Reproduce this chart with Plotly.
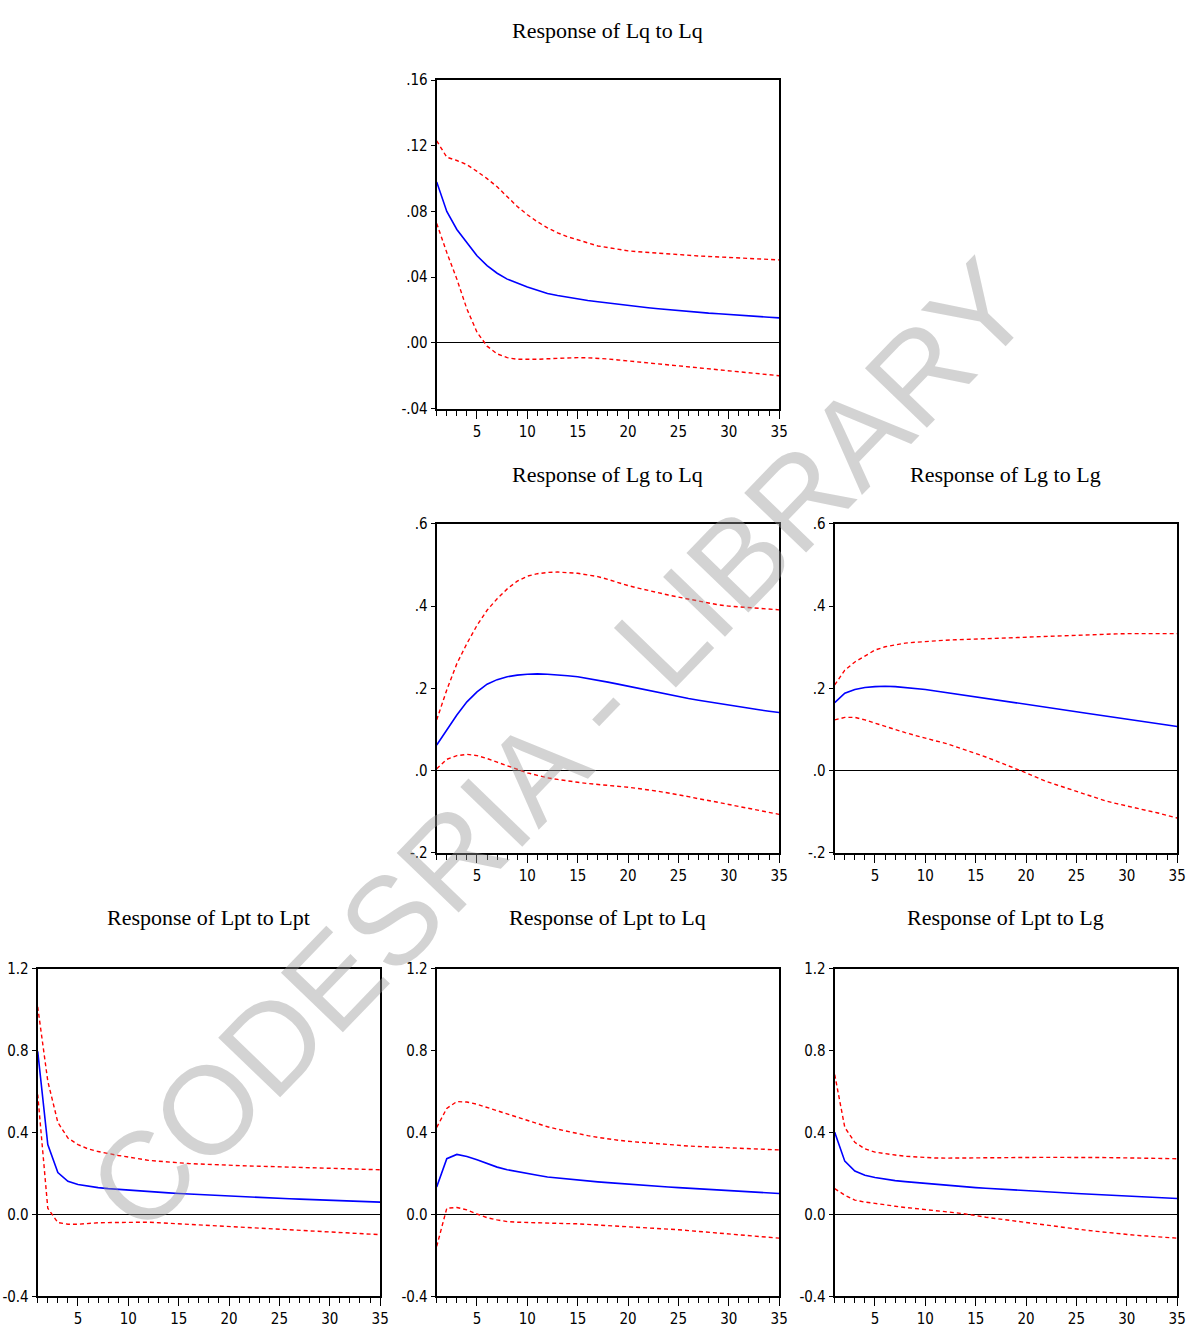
import plotly.graph_objects as go

periods = list(range(1, 36))

# Panel: Response of Lq to Lq
lq_lq_mid = [.098, .080, .069, .061, .053, .047, .0424, .0388, .0362, .034, .032, .030, .0288, .0277, .0267, .0258, .025, .0242, .0234, .0226, .022, .0214, .0208, .0202, .0196, .0191, .0186, .0181, .0177, .0172, .0168, .0164, .016, .0156, .0152]
lq_lq_up = [.123, .113, .111, .1085, .1044, .100, .095, .089, .083, .078, .0737, .070, .067, .0646, .0626, .0606, .059, .058, .057, .056, .0555, .055, .0545, .054, .0535, .0532, .0529, .0526, .0523, .052, .0517, .0514, .0511, .0508, .0505]
lq_lq_lo = [.0727, .055, .0388, .0206, .0065, -.002, -.0067, -.009, -.010, -.0102, -.010, -.0097, -.0094, -.0091, -.009, -.0091, -.0093, -.0098, -.0104, -.011, -.0116, -.0122, -.0128, -.0134, -.014, -.0147, -.0154, -.016, -.0167, -.0174, -.018, -.0186, -.0192, -.0197, -.020]

# Panel: Response of Lg to Lq
lg_lq_mid = [.062, .098, .135, .167, .191, .210, .221, .228, .232, .234, .235, .234, .233, .2305, .228, .224, .220, .215, .210, .205, .200, .195, .1895, .184, .179, .175, .171, .167, .1625, .158, .1545, .151, .1475, .144, .141]
lg_lq_up = [.123, .196, .260, .309, .353, .390, .418, .442, .461, .473, .479, .482, .483, .482, .480, .476, .472, .465, .457, .450, .444, .438, .432, .427, .422, .417, .412, .407, .403, .400, .398, .396, .394, .392, .391]
lg_lq_lo = [.004, .027, .036, .039, .036, .029, .020, .011, .002, -.006, -.012, -.018, -.022, -.026, -.029, -.032, -.034, -.036, -.038, -.041, -.044, -.047, -.051, -.055, -.059, -.064, -.069, -.073, -.078, -.083, -.088, -.093, -.098, -.103, -.107]

# Panel: Response of Lg to Lg
lg_lg_mid = [.165, .188, .197, .202, .204, .205, .204, .202, .200, .197, .1935, .190, .1865, .1828, .179, .1757, .1723, .169, .165, .161, .1574, .1538, .1502, .1466, .143, .1392, .1354, .1316, .1278, .124, .1206, .1172, .1138, .1104, .107]
lg_lg_up = [.208, .244, .264, .279, .293, .301, .306, .310, .312, .314, .3155, .317, .318, .319, .320, .321, .322, .323, .324, .325, .326, .327, .328, .329, .330, .331, .3315, .332, .3325, .333, .333, .333, .333, .333, .333]
lg_lg_lo = [.123, .129, .129, .123, .115, .107, .0995, .092, .085, .078, .072, .066, .058, .050, .042, .0327, .0233, .014, .004, -.006, -.0165, -.027, -.035, -.043, -.051, -.059, -.067, -.075, -.081, -.087, -.0923, -.0977, -.103, -.1095, -.116]

# Panel: Response of Lpt to Lpt
lpt_lpt_mid = [.797, .342, .205, .163, .147, .139, .132, .127, .123, .119, .116, .113, .1097, .1063, .103, .1004, .0978, .0952, .0926, .090, .0878, .0856, .0834, .0812, .079, .0774, .0758, .0742, .0726, .071, .069, .067, .065, .063, .061]
lpt_lpt_up = [1.015, .652, .450, .374, .342, .321, .308, .297, .289, .281, .273, .265, .2607, .2563, .252, .2496, .2472, .2448, .2424, .240, .2388, .2376, .2364, .2352, .234, .2326, .2312, .2298, .2284, .227, .2254, .2238, .2222, .2206, .219]
lpt_lpt_lo = [.587, .031, -.039, -.047, -.047, -.042, -.040, -.039, -.038, -.037, -.037, -.037, -.0397, -.0423, -.045, -.0482, -.0514, -.0546, -.0578, -.061, -.0636, -.0662, -.0688, -.0714, -.074, -.0762, -.0784, -.0806, -.0828, -.085, -.0876, -.0902, -.0928, -.0954, -.098]

# Panel: Response of Lpt to Lq
lpt_lq_mid = [.135, .273, .294, .284, .268, .248, .232, .219, .209, .200, .192, .184, .1787, .1733, .168, .164, .160, .156, .152, .148, .1448, .1416, .1384, .1352, .132, .1288, .1256, .1224, .1192, .116, .1134, .1108, .1082, .1056, .103]
lpt_lq_up = [.426, .519, .552, .550, .539, .523, .506, .490, .474, .458, .4435, .429, .4173, .4057, .394, .3857, .3773, .369, .3635, .358, .3538, .3496, .3454, .3412, .337, .3348, .3326, .3304, .3282, .326, .324, .322, .320, .318, .316]
lpt_lq_lo = [-.155, .031, .035, .023, .003, -.015, -.026, -.034, -.037, -.039, -.0405, -.042, -.043, -.044, -.045, -.0476, -.0502, -.0528, -.0554, -.058, -.0612, -.0644, -.0676, -.0708, -.074, -.0782, -.0824, -.0866, -.0908, -.095, -.099, -.103, -.107, -.111, -.115]

# Panel: Response of Lpt to Lg
lpt_lg_mid = [.402, .261, .213, .192, .181, .173, .166, .161, .1565, .152, .148, .144, .140, .136, .132, .1288, .1256, .1224, .1192, .116, .1134, .1108, .1082, .1056, .103, .1004, .0978, .0952, .0926, .090, .0878, .0856, .0834, .0812, .079]
lpt_lg_up = [.684, .426, .353, .321, .305, .297, .291, .285, .281, .277, .2765, .276, .276, .276, .276, .2766, .2772, .2778, .2784, .279, .2794, .2798, .2802, .2806, .281, .2802, .2794, .2786, .2778, .277, .2762, .2754, .2746, .2738, .273]
lpt_lg_lo = [.127, .095, .071, .061, .055, .047, .041, .035, .0305, .026, .0205, .015, .009, .003, -.006, -.0127, -.0193, -.026, -.0325, -.039, -.0454, -.0518, -.0582, -.0646, -.071, -.0764, -.0818, -.0872, -.0926, -.098, -.1014, -.1048, -.1082, -.1116, -.115]

titles = ["Response of Lq to Lq", "Response of Lg to Lq", "Response of Lg to Lg",
          "Response of Lpt to Lpt", "Response of Lpt to Lq", "Response of Lpt to Lg"]

ticks_small = [-.04, 0, .04, .08, .12, .16]
ticks_small_text = ["-.04", ".00", ".04", ".08", ".12", ".16"]
ticks_mid = [-.2, 0, .2, .4, .6]
ticks_mid_text = ["-.2", ".0", ".2", ".4", ".6"]
ticks_big = [-0.4, 0, 0.4, 0.8, 1.2]
ticks_big_text = ["-0.4", "0.0", "0.4", "0.8", "1.2"]

W, H = 1204, 1342
cols = {"L": (38, 383), "M": (440, 785), "R": (841, 1186)}
rows = {"T": (72, 405), "C": (522, 855), "B": (973, 1305)}
title_y = {"T": 22, "C": 472, "B": 921}


def px(x):
    return x / W


def py(y):
    return 1 - y / H


panels = [
    ("M", "T", titles[0], lq_lq_mid, lq_lq_up, lq_lq_lo, ticks_small, ticks_small_text),
    ("M", "C", titles[1], lg_lq_mid, lg_lq_up, lg_lq_lo, ticks_mid, ticks_mid_text),
    ("R", "C", titles[2], lg_lg_mid, lg_lg_up, lg_lg_lo, ticks_mid, ticks_mid_text),
    ("L", "B", titles[3], lpt_lpt_mid, lpt_lpt_up, lpt_lpt_lo, ticks_big, ticks_big_text),
    ("M", "B", titles[4], lpt_lq_mid, lpt_lq_up, lpt_lq_lo, ticks_big, ticks_big_text),
    ("R", "B", titles[5], lpt_lg_mid, lpt_lg_up, lpt_lg_lo, ticks_big, ticks_big_text),
]

tick_font = dict(family="Liberation Sans Narrow, DejaVu Sans Condensed, Arial Narrow, sans-serif", size=15, color="black")
title_font = dict(family="Liberation Serif, Times New Roman, serif", size=22, color="black")

fig = go.Figure()
annotations = []
for i, (c, r, title, mid, up, lo, tv, tt) in enumerate(panels):
    n = "" if i == 0 else str(i + 1)
    x0, x1 = cols[c]
    y0, y1 = rows[r]
    xd = [px(x0), px(x1)]
    yd = [py(y1), py(y0)]
    for ys, color, dash, width in ((up, "#ff0000", "4px,3px", 1.4),
                                   (lo, "#ff0000", "4px,3px", 1.4),
                                   (mid, "#0000ff", "solid", 1.6)):
        fig.add_trace(go.Scatter(x=periods, y=ys, mode="lines",
                                 line=dict(color=color, dash=dash, width=width),
                                 xaxis="x" + n, yaxis="y" + n, showlegend=False,
                                 hoverinfo="skip"))
    fig.layout["xaxis" + n] = dict(
        domain=xd, anchor="y" + n, range=[1, 35], tick0=5, dtick=5,
        ticks="outside", ticklen=8, tickwidth=1, tickcolor="black",
        minor=dict(dtick=1, tick0=1, ticks="outside", ticklen=5, tickwidth=1, tickcolor="black"),
        showgrid=False, zeroline=False, showline=True, linecolor="black", linewidth=2,
        mirror=True, tickfont=tick_font, fixedrange=True)
    fig.layout["yaxis" + n] = dict(
        domain=yd, anchor="x" + n, range=[tv[0], tv[-1]], tickvals=tv, ticktext=tt,
        ticks="outside", ticklen=4, tickwidth=1, tickcolor="black",
        showgrid=False, zeroline=True, zerolinecolor="black", zerolinewidth=1,
        showline=True, linecolor="black", linewidth=2, mirror=True,
        tickfont=tick_font, fixedrange=True)
    annotations.append(dict(text=title, xref="paper", yref="paper",
                            x=(xd[0] + xd[1]) / 2, y=py(title_y[r]),
                            xanchor="center", yanchor="middle", showarrow=False,
                            font=title_font))

annotations.append(dict(text="CODESRIA - LIBRARY", xref="paper", yref="paper",
                        x=px(564), y=py(747), xanchor="center", yanchor="middle",
                        showarrow=False, textangle=-46,
                        font=dict(family="Liberation Sans, Arial, sans-serif", size=125,
                                  color="rgba(150,150,150,0.42)")))

fig.update_layout(width=W, height=H, margin=dict(l=0, r=0, t=0, b=0),
                  paper_bgcolor="white", plot_bgcolor="white",
                  annotations=annotations, showlegend=False)

fig.write_html("out.html")
